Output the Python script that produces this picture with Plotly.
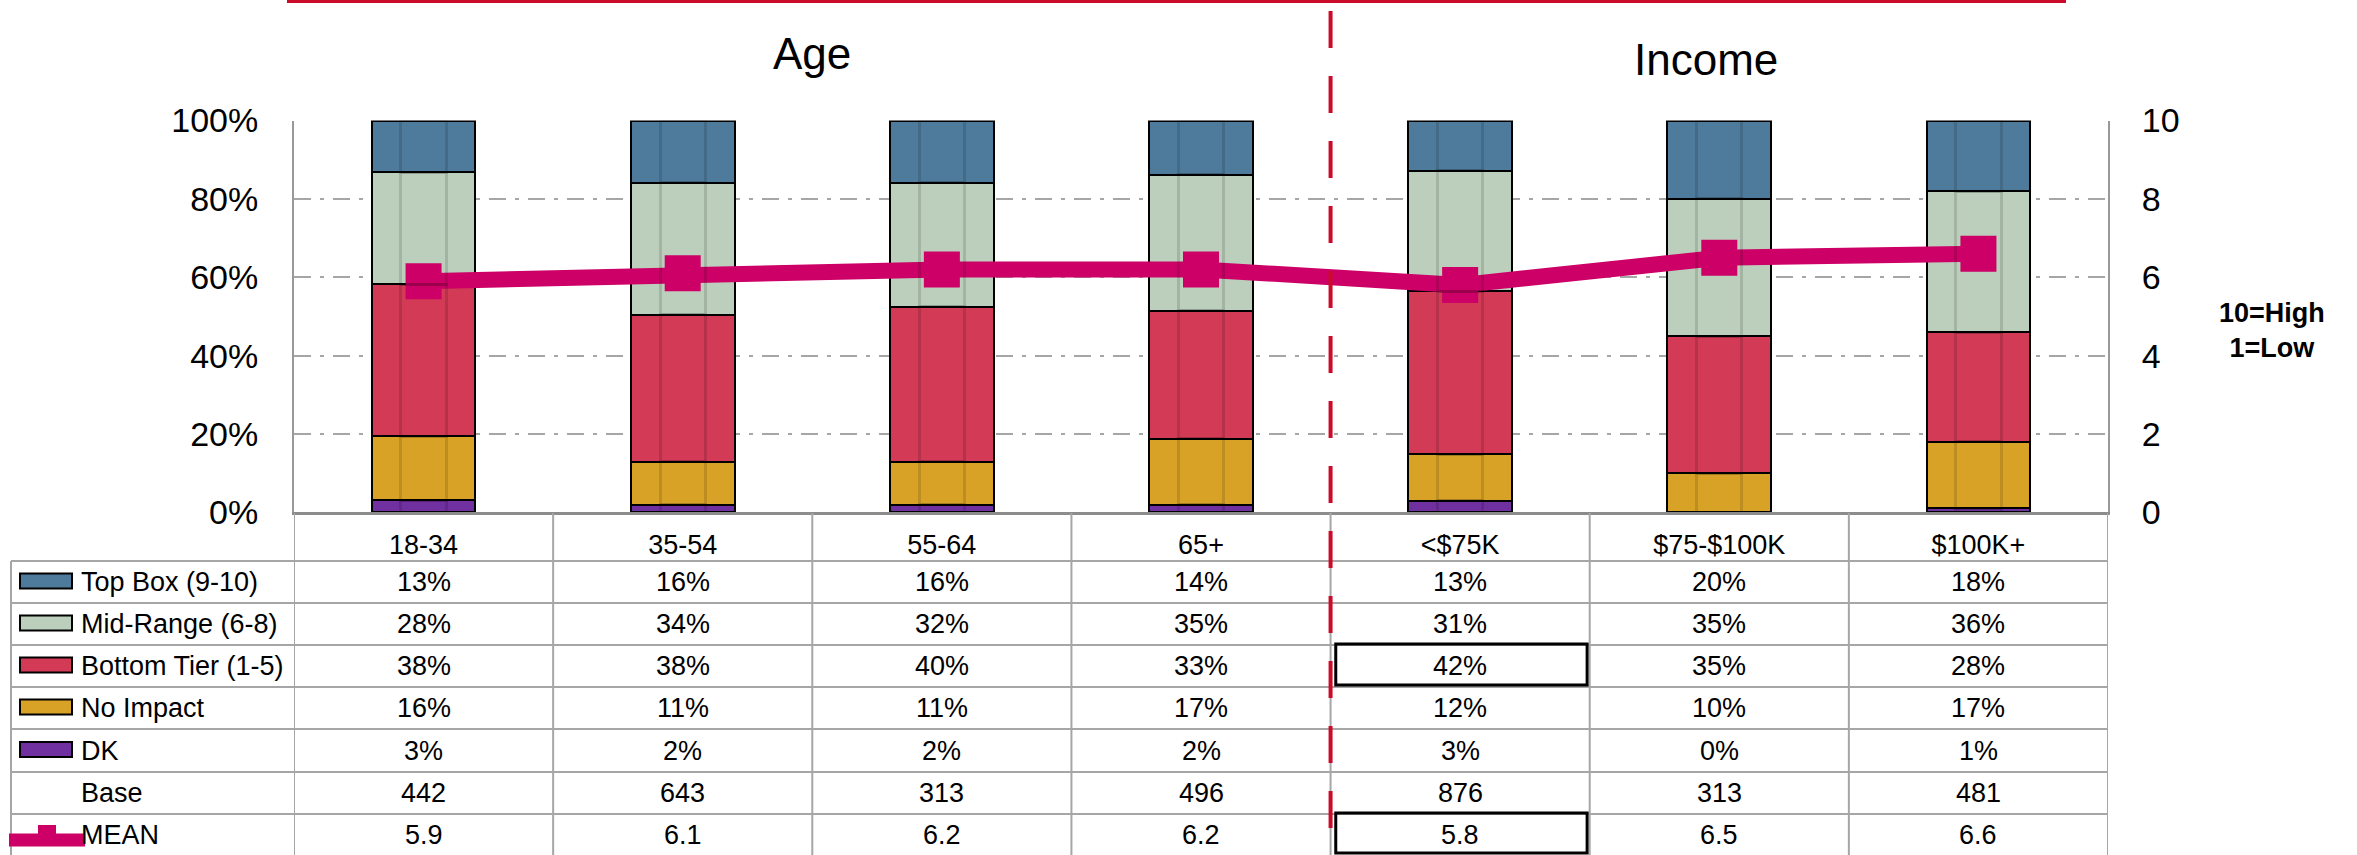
import plotly.graph_objects as go

W, H = 2357, 855

categories = ["18-34", "35-54", "55-64", "65+", "<$75K", "$75-$100K", "$100K+"]
top_box = [13, 16, 16, 14, 13, 20, 18]
mid_range = [28, 34, 32, 35, 31, 35, 36]
bottom_tier = [38, 38, 40, 33, 42, 35, 28]
no_impact = [16, 11, 11, 17, 12, 10, 17]
dk = [3, 2, 2, 2, 3, 0, 1]
base = [442, 643, 313, 496, 876, 313, 481]
mean = [5.9, 6.1, 6.2, 6.2, 5.8, 6.5, 6.6]

pct_ticks = [0, 20, 40, 60, 80, 100]
pct_labels = ["0%", "20%", "40%", "60%", "80%", "100%"]

_TOP = "#4e7b9b"
_MID = "#bccfbc"
_BOT = "#d23a56"
_NOI = "#d8a226"
_DK = "#7030a0"
_MEAN = "#cc0066"
_RED = "#cc0a2a"
_GRID = "#a6a6a6"
FONT = "Liberation Sans, Arial, sans-serif"


def px(x):
    return x / W


def py(y):
    return 1 - y / H


series = [
    ("DK", dk, _DK),
    ("No Impact", no_impact, _NOI),
    ("Bottom Tier (1-5)", bottom_tier, _BOT),
    ("Mid-Range (6-8)", mid_range, _MID),
    ("Top Box (9-10)", top_box, _TOP),
]

fig = go.Figure()

# stacked bars, bottom first
for name, vals, color in series:
    fig.add_trace(go.Bar(
        x=categories, y=vals, name=name, width=0.4,
        marker=dict(color=color, line=dict(color="black", width=2)),
        showlegend=False,
    ))

# faint vertical shading bands inside each bar (same stacks, narrower, on an overlay axis)
for name, vals, color in series:
    fig.add_trace(go.Bar(
        x=categories, y=vals, name=name, width=0.175, xaxis="x2",
        marker=dict(color="rgba(0,0,0,0)", line=dict(color="rgba(0,0,0,0.13)", width=3)),
        showlegend=False, hoverinfo="skip",
    ))

fig.add_trace(go.Scatter(
    x=categories, y=mean, yaxis="y2", mode="lines+markers", name="MEAN",
    line=dict(color=_MEAN, width=16),
    marker=dict(symbol="square", size=36, color=_MEAN),
    showlegend=False,
))

# table rows (label, values, key colour)
rows = [
    ("Top Box (9-10)", [f"{v}%" for v in top_box], _TOP),
    ("Mid-Range (6-8)", [f"{v}%" for v in mid_range], _MID),
    ("Bottom Tier (1-5)", [f"{v}%" for v in bottom_tier], _BOT),
    ("No Impact", [f"{v}%" for v in no_impact], _NOI),
    ("DK", [f"{v}%" for v in dk], _DK),
    ("Base", [str(v) for v in base], None),
    ("MEAN", [f"{v:.1f}" for v in mean], "mean"),
]
row_lines = [561, 603, 645, 687, 729, 772, 814, 855]

shapes = []
annotations = []

for y in row_lines[:-1]:
    shapes.append(dict(type="line", xref="paper", yref="paper",
                       x0=px(11), x1=px(2108), y0=py(y), y1=py(y),
                       line=dict(color=_GRID, width=2)))
shapes.append(dict(type="line", xref="paper", yref="paper",
                   x0=px(11), x1=px(11), y0=py(561), y1=py(855),
                   line=dict(color=_GRID, width=2)))
for k in range(len(categories) + 1):
    shapes.append(dict(type="line", xref="x", yref="paper",
                       x0=k - 0.5, x1=k - 0.5, y0=py(513), y1=py(855),
                       line=dict(color=_GRID, width=2)))

for i, (label, vals, key) in enumerate(rows):
    yc = (row_lines[i] + row_lines[i + 1]) / 2
    annotations.append(dict(text=label, xref="paper", yref="paper",
                            x=px(79), y=py(yc), xanchor="left", yanchor="middle",
                            showarrow=False, font=dict(size=27)))
    for j, v in enumerate(vals):
        annotations.append(dict(text=v, xref="x", yref="paper",
                                x=j, y=py(yc), xanchor="center", yanchor="middle",
                                showarrow=False, font=dict(size=27)))
    if key == "mean":
        shapes.append(dict(type="line", xref="paper", yref="paper",
                           x0=px(9), x1=px(85), y0=py(840), y1=py(840),
                           line=dict(color=_MEAN, width=13)))
        shapes.append(dict(type="rect", xref="paper", yref="paper",
                           x0=px(38), x1=px(56), y0=py(825), y1=py(842),
                           fillcolor=_MEAN, line=dict(width=0)))
    elif key:
        shapes.append(dict(type="rect", xref="paper", yref="paper",
                           x0=px(20), x1=px(72), y0=py(yc - 8.5), y1=py(yc + 6.5),
                           fillcolor=key, line=dict(color="black", width=2)))

# highlighted cells
for r in (2, 6):
    shapes.append(dict(type="rect", xref="x", yref="paper",
                       x0=3.52, x1=4.49, y0=py(row_lines[r] - 1), y1=py(row_lines[r + 1] - 2),
                       line=dict(color="black", width=3)))

# red separators
shapes.append(dict(type="line", xref="x", yref="paper", x0=3.5, x1=3.5,
                   y0=py(11), y1=py(832), layer="above",
                   line=dict(color=_RED, width=4, dash="37px,28px")))
shapes.append(dict(type="line", xref="paper", yref="paper", x0=px(287), x1=px(2066),
                   y0=py(1.5), y1=py(1.5), line=dict(color=_RED, width=3)))

annotations.append(dict(text="Age", xref="x", yref="paper", x=1.5, y=py(53),
                        xanchor="center", yanchor="middle",
                        showarrow=False, font=dict(size=44)))
annotations.append(dict(text="Income", xref="x", yref="paper", x=4.95, y=py(59),
                        xanchor="center", yanchor="middle",
                        showarrow=False, font=dict(size=44)))
annotations.append(dict(text="<b>10=High</b><br><b>1=Low</b>", xref="paper", yref="paper",
                        x=px(2272), y=py(331), xanchor="center", yanchor="middle",
                        showarrow=False, font=dict(size=27)))

fig.update_layout(
    width=W, height=H, autosize=False,
    margin=dict(l=0, r=0, t=0, b=0, pad=0, autoexpand=False),
    paper_bgcolor="white", plot_bgcolor="white",
    font=dict(family=FONT, color="black"),
    barmode="stack", barnorm="percent",
    xaxis=dict(domain=[px(294), px(2108)], type="category", range=[-0.5, 6.5],
               showgrid=False, ticks="", tickfont=dict(size=27), automargin=False,
               ticklabelstandoff=6, showline=True, linecolor="#8c8c8c", linewidth=3),
    xaxis2=dict(overlaying="x", type="category", range=[-0.5, 6.5], visible=False),
    yaxis=dict(domain=[py(512.4), py(120.5)], range=[0, 100],
               tickvals=pct_ticks, ticktext=pct_labels, automargin=False,
               tickfont=dict(size=34), ticks="", ticklabelstandoff=27,
               showgrid=True, gridcolor=_GRID, gridwidth=2, griddash="17px,9px,4px,9px",
               zeroline=False, showline=True, linecolor="#999999", linewidth=2),
    yaxis2=dict(overlaying="y", side="right", range=[0, 10], dtick=2, automargin=False,
                tickfont=dict(size=34), ticks="", ticklabelstandoff=25,
                showgrid=False, zeroline=False, showline=True,
                linecolor="#999999", linewidth=2),
    shapes=shapes,
    annotations=annotations,
)

fig.write_html(
    "out.html",
    config={"displayModeBar": False},
    post_script="document.body.style.margin='0px';document.body.style.overflow='hidden';",
)
